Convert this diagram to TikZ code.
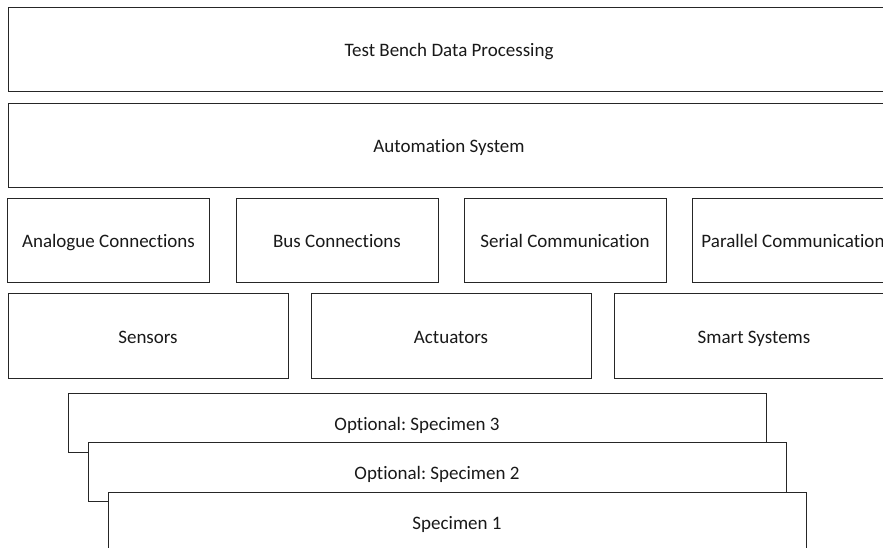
\documentclass[tikz,border=0pt]{standalone}
\usepackage{fontspec}
\setmainfont{Carlito}[Ligatures=NoCommon]
\frenchspacing
\begin{document}
\begin{tikzpicture}[x=1pt,y=-1pt,
  box/.style={draw=black!85, line width=0.9pt, fill=white, inner sep=0pt,
    text height=16pt, text depth=0.5pt,
    font=\fontsize{19}{23}\selectfont\frenchspacing, text=black!90},
  wide/.style={box, minimum width=882pt, minimum height=84pt},
  iface/.style={box, minimum width=202pt, minimum height=84pt},
  device/.style={box, minimum width=280pt, minimum height=85pt},
  specimen/.style={box, minimum width=698pt, minimum height=59pt}]
\useasboundingbox (0,0) rectangle (883,548);
\clip (0,0) rectangle (883,548);

% processing and automation layers
\node[wide] (tbdp) at (449,49) {Test Bench Data Processing};
\node[wide] (auto) at (449,145) {Automation System};

% interface layer
\node[iface] (ana) at (108.5,240) {Analogue Connections};
\node[iface] (bus) at (337,240) {Bus Connections};
\node[iface] (ser) at (565,240) {Serial Communication};
\node[iface] (par) at (793,240) {Parallel Communication};

% device layer
\node[device] (sens) at (148,335.5) {Sensors};
\node[device] (act) at (451,335.5) {Actuators};
\node[device] (smart) at (754,335.5) {Smart Systems};

% stacked specimens, back to front
\node[specimen] (sp3) at (417,422.5) {Optional: Specimen 3};
\node[specimen] (sp2) at (437,471.5) {Optional: Specimen 2};
\node[specimen] (sp1) at (457,521.5) {Specimen 1};
\end{tikzpicture}
\end{document}
